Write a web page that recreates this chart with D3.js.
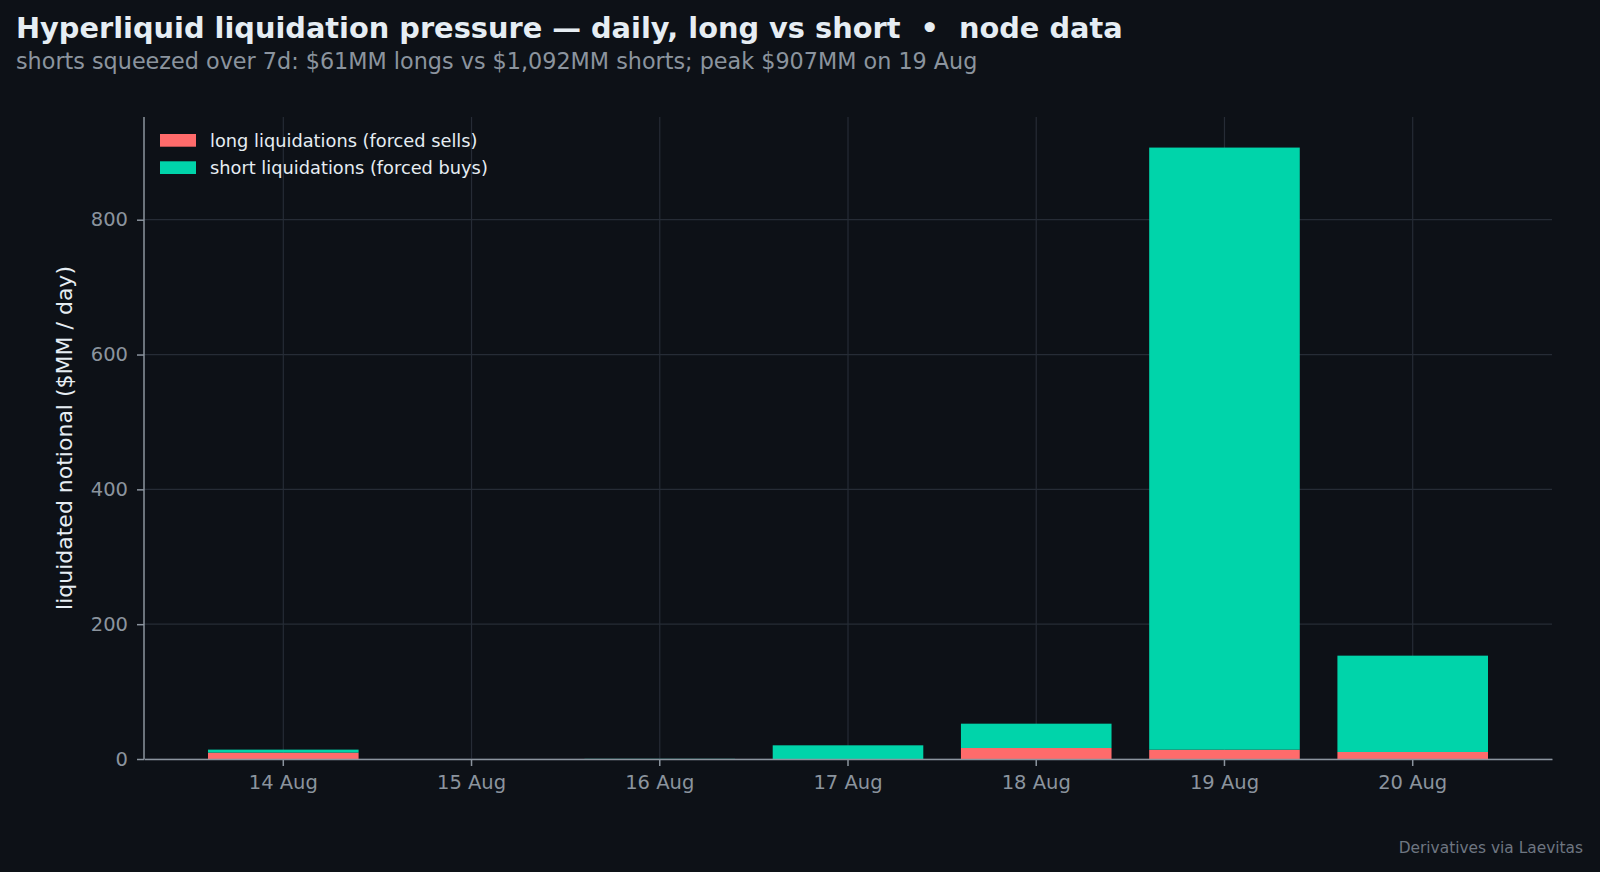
<!DOCTYPE html>
<html>
<head>
<meta charset="utf-8">
<script src="https://cdn.jsdelivr.net/npm/d3@7"></script>
<style>
  html, body { margin: 0; padding: 0; background: #0d1117; }
  svg { display: block; font-family: "DejaVu Sans", sans-serif; }
</style>
</head>
<body>
<svg id="chart"></svg>
<script>
// daily liquidated notional, $MM
const days = ['14 Aug', '15 Aug', '16 Aug', '17 Aug', '18 Aug', '19 Aug', '20 Aug'];
const longLiq = [9.5, 0, 0, 0, 16.3, 13.8, 10.4];
const shortLiq = [4.4, 0, 0.2, 20.3, 36.1, 893.2, 142.9];
const yTicks = [0, 200, 400, 600, 800];

const W = 1600, H = 872;
const margin = {top: 117, right: 48, bottom: 113, left: 144};
const innerW = W - margin.left - margin.right;
const innerH = H - margin.top - margin.bottom;

const colLong = '#ff6b6b', colShort = '#00d4aa';

const svg = d3.select('#chart').attr('width', W).attr('height', H);
svg.append('rect').attr('width', W).attr('height', H).attr('fill', '#0d1117');

const rows = days.map((d, i) => ({day: d, long: longLiq[i], short: shortLiq[i]}));
const stack = d3.stack().keys(['long', 'short'])(rows);

const x = d3.scaleBand().domain(days).range([0, innerW])
    .paddingInner(0.2).paddingOuter(0.34);
const ymax = d3.max(rows, d => d.long + d.short) * 1.05;
const y = d3.scaleLinear().domain([0, ymax]).range([innerH, 0]);

const chart = svg.append('g').attr('transform', `translate(${margin.left},${margin.top})`);

// grid
chart.append('g').selectAll('line').data(days).join('line')
    .attr('x1', d => x(d) + x.bandwidth() / 2).attr('x2', d => x(d) + x.bandwidth() / 2)
    .attr('y1', 0).attr('y2', innerH)
    .attr('stroke', '#262c36').attr('stroke-width', 1.2);
chart.append('g').selectAll('line').data(yTicks).join('line')
    .attr('x1', 0).attr('x2', innerW)
    .attr('y1', d => y(d)).attr('y2', d => y(d))
    .attr('stroke', '#262c36').attr('stroke-width', 1.2);

// bars
const colors = {long: colLong, short: colShort};
chart.append('g').selectAll('g').data(stack).join('g')
    .attr('fill', s => colors[s.key])
  .selectAll('rect').data(s => s).join('rect')
    .attr('x', d => x(d.data.day))
    .attr('width', x.bandwidth())
    .attr('y', d => y(d[1]))
    .attr('height', d => y(d[0]) - y(d[1]));

// axes
const xAxis = d3.axisBottom(x).tickSize(7).tickPadding(9).tickSizeOuter(0);
const yAxis = d3.axisLeft(y).tickValues(yTicks).tickSize(7).tickPadding(9).tickSizeOuter(0);

const gx = chart.append('g').attr('transform', `translate(0,${innerH})`).call(xAxis);
const gy = chart.append('g').call(yAxis);

[gx, gy].forEach(g => {
    g.select('.domain').attr('stroke', '#8b949e').attr('stroke-width', 1.5);
    g.selectAll('.tick line').attr('stroke', '#8b949e').attr('stroke-width', 1.5);
    g.selectAll('.tick text').attr('fill', '#8b949e')
        .style('font-size', '19.5px').style('font-family', '"DejaVu Sans", sans-serif');
});
gy.select('.domain').attr('d', `M0,${innerH}V0`);

// y label
svg.append('text')
    .attr('transform', `translate(72,${margin.top + innerH / 2}) rotate(-90)`)
    .attr('text-anchor', 'middle')
    .attr('fill', '#e6edf3')
    .style('font-size', '22px')
    .text('liquidated notional ($MM / day)');

// legend
const legend = svg.append('g').attr('transform', 'translate(160,134)');
const items = [
    {label: 'long liquidations (forced sells)', color: colLong},
    {label: 'short liquidations (forced buys)', color: colShort}
];
items.forEach((it, i) => {
    const g = legend.append('g').attr('transform', `translate(0,${i * 27.3})`);
    g.append('rect').attr('width', 36).attr('height', 12.7).attr('fill', it.color);
    g.append('text').attr('x', 50).attr('y', 12.5)
        .attr('fill', '#e6edf3').style('font-size', '17.8px').text(it.label);
});

// titles
svg.append('text').attr('x', 16).attr('y', 38)
    .attr('fill', '#e6edf3').style('font-size', '28.8px').style('font-weight', 'bold')
    .style('white-space', 'pre')
    .text('Hyperliquid liquidation pressure \u2014 daily, long vs short  \u2022  node data');
svg.append('text').attr('x', 16).attr('y', 69)
    .attr('fill', '#8b949e').style('font-size', '22.3px')
    .text('shorts squeezed over 7d: $61MM longs vs $1,092MM shorts; peak $907MM on 19 Aug');

svg.append('text').attr('x', 1583).attr('y', 853)
    .attr('text-anchor', 'end')
    .attr('fill', '#6e7681').style('font-size', '15.4px')
    .text('Derivatives via Laevitas');
</script>
</body>
</html>
